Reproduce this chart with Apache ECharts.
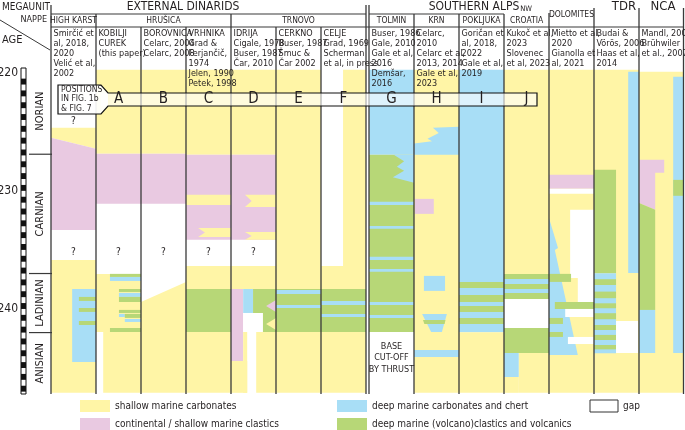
<!DOCTYPE html>
<html><head><meta charset="utf-8">
<script src="https://cdn.jsdelivr.net/npm/echarts@6/dist/echarts.min.js"></script>
<style>html,body{margin:0;padding:0;background:#fff}#c{width:685px;height:430px}</style>
</head><body><div id="c"></div>
<script>
// ---------------- DATA ----------------
const columns = ['High Karst','Kobilji Curek','Borovnica','Vrhnika','Idrija','Cerkno','Celje','Tolmin','Krn','Pokljuka','NW Croatia','Dolomites','TDR','NCA'];
// rect: [type, f0, f1, ageTop, ageBottom] ; polygon: [type, [[f, age], ...]]  (f = fraction of column width)
const highKarst = [
 ['Y',[[0,224.66],[1,224.66],[1,226.44],[0,225.51]]],
 ['P',[[0,225.51],[1,226.44],[1,233.31],[0,233.31]]],
 ['Y',0,1,235.85,247.1],
 ['B',0.47,1,238.31,244.49],
 ['G',0.62,1,238.98,239.32],
 ['G',0.62,1,239.92,240.25],
 ['G',0.62,1,241.02,241.36]
];
const kobilji = [
 ['Y',0,1,219.75,226.86],
 ['P',0,1,226.86,231.1],
 ['Y',0,1,237.03,241.95],
 ['Y',0.16,1,241.95,247.1],
 ['G',0.31,1,237.03,237.29],
 ['B',0.31,1,237.29,237.63],
 ['G',0.51,1,238.31,238.56],
 ['B',0.51,1,238.64,238.98],
 ['G',0.51,1,238.98,239.41],
 ['G',0.51,1,240.08,240.34],
 ['B',0.51,0.64,240.42,240.68],
 ['G',0.64,1,240.42,240.76],
 ['B',0.64,1,240.85,241.1],
 ['G',0.31,1,241.61,241.95]
];
const borovnica = [
 ['Y',0,1,219.75,226.86],
 ['P',0,1,226.86,231.1],
 ['Y',[[0,239.41],[1,237.71],[1,247.1],[0,247.1]]]
];
const vrhnika = [
 ['Y',0,1,219.75,226.95],
 ['P',0,1,226.95,234.15],
 ['Y',0,1,230.34,231.19],
 ['Y',[[0.27,233.14],[1,233.14],[1,233.9],[0.27,233.9],[0.42,233.52]]],
 ['Y',0,1,236.36,238.31],
 ['G',0,1,238.31,241.95],
 ['Y',0,1,241.95,247.1]
];
const idrija = [
 ['Y',0,1,219.75,226.95],
 ['P',0,1,226.95,234.15],
 ['Y',[[0.31,230.34],[1,230.34],[1,231.36],[0.31,231.36],[0.46,230.85]]],
 ['Y',[[0.31,233.48],[1,233.48],[1,234.15],[0.31,234.15],[0.46,233.82]]],
 ['Y',0,1,236.36,238.31],
 ['P',0,0.27,238.31,244.41],
 ['B',0.27,0.49,238.31,240.34],
 ['G',0.49,1,238.31,241.95],
 ['W',0.27,0.71,240.34,241.95],
 ['P',[[1,239.24],[0.78,239.75],[1,240.25]]],
 ['Y',[[1,240.76],[0.78,241.27],[1,241.78]]],
 ['Y',0.56,1,241.95,247.1],
 ['Y',0.27,0.36,241.95,247.1],
 ['Y',0,0.36,244.41,247.1]
];
const cerkno = [
 ['Y',0,1,219.75,238.31],
 ['G',0,1,238.31,241.95],
 ['B',0,1,238.39,238.73],
 ['B',0,1,239.66,239.92],
 ['Y',0,1,241.95,247.1]
];
const celje = [
 ['Y',0.49,1,219.75,236.36],
 ['Y',0,1,236.36,238.31],
 ['G',0,1,238.31,241.95],
 ['B',0,1,239.32,239.66],
 ['B',0,1,240.42,240.68],
 ['Y',0,1,241.95,247.1]
];
const tolmin = [
 ['B',0,1,219.75,226.95],
 ['G',0,1,226.95,241.95],
 ['B',[[1,226.95],[0.55,226.95],[0.78,227.5],[0.62,227.95],[0.78,228.3],[0.53,228.85],[1,229.32]]],
 ['B',0,1,230.93,231.19],
 ['B',0,1,232.97,233.22],
 ['B',0,1,235.59,235.85],
 ['B',0,1,236.61,236.86],
 ['B',0,1,239.41,239.66],
 ['B',0,1,240.51,240.76]
];
const krn = [
 ['Y',0,1,219.75,247.1],
 ['B',[[1,224.58],[0.42,224.66],[0.55,225.1],[0.3,225.6],[0.4,225.8],[0,226.0],[0,226.95],[1,226.95]]],
 ['P',0.02,0.44,230.68,231.95],
 ['B',0.22,0.69,237.2,238.47],
 ['B',[[0.18,240.42],[0.73,240.42],[0.62,241.95],[0.38,241.95]]],
 ['G',[[0.2,240.93],[0.7,240.93],[0.68,241.27],[0.23,241.27]]],
 ['B',0,1,243.47,244.07]
];
const pokljuka = [
 ['B',0,1,219.75,237.71],
 ['G',0,1,237.71,238.22],
 ['B',0,1,238.22,238.81],
 ['G',0,1,238.81,239.41],
 ['B',0,1,239.41,239.75],
 ['G',0,1,239.75,240.25],
 ['B',0,1,240.25,240.76],
 ['G',0,1,240.76,241.27],
 ['B',0,1,241.27,241.98],
 ['Y',0,1,241.98,247.1]
];
const nwCroatia = [
 ['Y',0,1,219.75,237.03],
 ['G',0,1,237.03,237.46],
 ['B',0,1,237.46,237.88],
 ['G',0,1,237.88,238.31],
 ['B',0,1,238.31,238.64],
 ['G',0,1,238.64,239.15],
 ['G',0,1,241.61,243.73],
 ['B',0,0.33,243.73,245.76],
 ['Y',0.33,1,243.73,247.1],
 ['Y',0,0.33,245.76,247.1]
];
const dolomites = [
 ['Y',0,1,219.75,247.1],
 ['P',0,1,228.64,229.83],
 ['W',0,1,229.83,230.25],
 ['W',0.47,1,231.61,237.37],
 ['W',0.64,1,237.37,239.41],
 ['B',[[0,232.29],[0.2,234.83],[0.13,235.0],[0.64,243.9],[0,243.9]]],
 ['G',0,0.49,237.03,237.71],
 ['G',0.13,1,239.41,240.0],
 ['W',0.36,1,240.0,240.68],
 ['G',0,0.31,240.76,241.27],
 ['G',0,0.31,241.95,242.37],
 ['W',0.42,1,242.37,242.97]
];
const tdr = [
 ['Y',0,1,219.75,247.1],
 ['B',0.76,1,219.92,236.95],
 ['G',0,0.49,228.22,236.97],
 ['B',0,0.49,236.97,243.75],
 ['G',0,0.49,237.48,237.97],
 ['G',0,0.49,238.53,239.09],
 ['G',0,0.49,239.52,239.94],
 ['G',0,0.49,240.36,240.87],
 ['G',0,0.49,241.36,241.78],
 ['G',0,0.49,242.2,242.63],
 ['G',0,0.49,243.05,243.42],
 ['W',0.49,0.98,241.02,243.73]
];
const nca = [
 ['Y',0,1,219.92,247.1],
 ['B',0.76,1,220.34,243.73],
 ['G',0.76,1,229.07,230.42],
 ['P',[[0,227.37],[0.56,227.37],[0.56,228.47],[0.36,228.47],[0.36,231.61],[0,231.02]]],
 ['G',[[0,231.02],[0.36,231.61],[0.36,240.08],[0,240.08]]],
 ['B',0,0.36,240.08,243.73]
];
const columnData = [highKarst,kobilji,borovnica,vrhnika,idrija,cerkno,celje,tolmin,krn,pokljuka,nwCroatia,dolomites,tdr,nca];

// question marks / notes: [column, age, text]
const notes = [[0,224.15,'?'],[0,235.2,'?'],[1,235.2,'?'],[2,235.2,'?'],[3,235.25,'?'],[4,235.25,'?'],
  [7,243.2,'BASE'],[7,244.15,'CUT-OFF'],[7,245.1,'BY THRUST']];
const stages = [['NORIAN',219.6,226.9],['CARNIAN',226.9,237.0],['LADINIAN',237.0,242.0],['ANISIAN',242.0,247.2]];
const ageTicks = [220,230,240];
const megaunits = ['EXTERNAL DINARIDS','SOUTHERN ALPS','TDR','NCA'];
const nappes = [['HIGH KARST',0,1],['HRUŠICA',1,4],['TRNOVO',4,7],['TOLMIN',7,8],['KRN',8,9],['POKLJUKA',9,10],['CROATIA',10,11],['DOLOMITES',11,12]];
const refs = [
 ['Smirčić et','al, 2018,','2020','Velić et al,','2002'],
 ['KOBILJI','CUREK','(this paper)'],
 ['BOROVNICA','Celarc, 2004','Celarc, 2008'],
 ['VRHNIKA','Grad &','Ferjančič,','1974','Jelen, 1990','Petek, 1998'],
 ['IDRIJA','Cigale, 1978','Buser, 1987','Čar, 2010'],
 ['CERKNO','Buser, 1987','Šmuc &','Čar 2002'],
 ['CELJE','Grad, 1969','Scherman','et al, in press'],
 ['Buser, 1986','Gale, 2010','Gale et al,','2016','Demšar,','2016'],
 ['Celarc,','2010','Celarc et al,','2013, 2014','Gale et al,','2023'],
 ['Goričan et','al, 2018,','2022','Gale et al,','2019'],
 ['Kukoč et al,','2023','Slovenec','et al, 2023'],
 ['Mietto et al,','2020','Gianolla et','al, 2021'],
 ['Budai &','Vörös, 2006','Haas et al,','2014'],
 ['Mandl, 2000','Brühwiler','et al., 2007']
];
const positions = ['','A','B','C','D','E','F','G','H','I','J','','',''];
const legendItems = [['Y','shallow marine carbonates'],['P','continental / shallow marine clastics'],['B','deep marine carbonates and chert'],['G','deep marine (volcano)clastics and volcanics'],['W','gap']];

// ---------------- STYLE / LAYOUT ----------------
const COLORS = {Y:'#fff5a6', P:'#e9c9e1', B:'#a8def6', G:'#b7d777', W:'#ffffff'};
const FONT = "'Liberation Sans Narrow','DejaVu Sans Condensed',Roboto,sans-serif";
const INK = '#231f20', LINE = '#3a3a3a';
const GL = 51, GT = 68, GH = 326, CW = 45, GAP = 3;
const Y_MIN = 219.6, Y_MAX = 247.2;
function colX(c){ return c + (c >= 7 ? GAP/CW : 0); }
function colPx(c){ return GL + CW*colX(c); }
const XMAX = 14 + GAP/CW;
const lineTops = [5,14,27,27,14,27,27,5,14,14,14,13,8,8,8];

const blocks = [];
columnData.forEach((arr,c)=>arr.forEach(s=>blocks.push({c, s})));

const chart = echarts.init(document.getElementById('c'), null, {renderer:'canvas'});

function renderBlock(params, api){
  const b = blocks[params.dataIndex], s = b.s, x0 = colX(b.c);
  const style = {fill: COLORS[s[0]]};
  if (s.length === 5){
    const p0 = api.coord([x0+s[1], s[3]]), p1 = api.coord([x0+s[2], s[4]]);
    return {type:'rect', shape:{x:p0[0], y:p0[1], width:p1[0]-p0[0], height:p1[1]-p0[1]}, style};
  }
  return {type:'polygon', shape:{points:s[1].map(p=>api.coord([x0+p[0], p[1]]))}, style};
}
function renderNote(params, api){
  const n = notes[params.dataIndex];
  const p = api.coord([colX(n[0])+0.5, n[1]]);
  return {type:'text', x:p[0], y:p[1], style:{text:n[2], font:(n[2]==='?'?'10px ':'9px ')+FONT, fill:INK, textAlign:'center', textVerticalAlign:'middle'}};
}
function renderLine(params, api){
  const i = params.dataIndex;
  const xs = i===7 ? [7, 7+GAP/CW] : [i===14 ? XMAX : colX(i)];
  const bottom = api.coord([0, Y_MAX])[1];
  return {type:'group', children: xs.map(x=>{
    const px = Math.round(api.coord([x, Y_MIN])[0]) + (i===14?-0.5:0);
    return {type:'line', shape:{x1:px, y1:lineTops[i], x2:px, y2:bottom}, style:{stroke:LINE, lineWidth:1.3}};
  })};
}
function renderScale(params, api){
  const ch = [];
  const top = api.coord([0, Y_MIN]), bot = api.coord([1, Y_MAX]);
  ch.push({type:'rect', shape:{x:top[0], y:top[1], width:bot[0]-top[0], height:bot[1]-top[1]}, style:{fill:'#fff', stroke:'#111', lineWidth:1}});
  for (let a = 220.5; a < Y_MAX; a += 1){
    const p0 = api.coord([0, a]), p1 = api.coord([1, Math.min(a+0.5, Y_MAX)]);
    ch.push({type:'rect', shape:{x:p0[0], y:p0[1], width:p1[0]-p0[0], height:p1[1]-p0[1]}, style:{fill:'#111'}});
  }
  ageTicks.forEach(t=>{
    const p = api.coord([0, t]);
    ch.push({type:'text', x:p[0]-3, y:p[1], style:{text:String(t), font:'12px '+FONT, fill:INK, textAlign:'right', textVerticalAlign:'middle'}});
  });
  return {type:'group', children:ch};
}
function renderStage(params, api){
  const st = stages[params.dataIndex];
  const ch = [];
  const pTop = api.coord([0, st[1]]), pR = api.coord([1, st[1]]);
  if (params.dataIndex > 0) ch.push({type:'line', shape:{x1:pTop[0], y1:pTop[1], x2:pR[0]+1, y2:pTop[1]}, style:{stroke:LINE, lineWidth:1.2}});
  const c = api.coord([0.5, (st[1]+st[2])/2]);
  ch.push({type:'text', x:c[0], y:c[1], rotation:Math.PI/2, style:{text:st[0], font:'11px '+FONT, fill:INK, textAlign:'center', textVerticalAlign:'middle'}});
  return {type:'group', children:ch};
}

// ---------------- GRAPHIC (header, positions band, legend) ----------------
const g = [];
function txt(x,y,text,size,opt){ g.push(Object.assign({type:'text', x, y, z:20, style:Object.assign({text, font:size+'px '+FONT, fill:INK, textVerticalAlign:'middle'}, opt||{})})); }
function ln(x1,y1,x2,y2,w){ g.push({type:'line', z:20, shape:{x1,y1,x2,y2}, style:{stroke:LINE, lineWidth:w||1.2}}); }
// corner
txt(2,7,'MEGAUNIT',10);
txt(47,20,'NAPPE',9,{textAlign:'right'});
txt(2,40,'AGE',11);
ln(0,20,50,50,1);
// megaunits
const megaX = [183, 474, 624, 663];
megaunits.forEach((m,i)=>txt(megaX[i], 7, m, i<2?12:13, {textAlign:'center'}));
// header lines
ln(GL,14,colPx(7)-GAP,14); ln(colPx(7),14,colPx(10),14);
ln(GL,27,684,27);
// nappes
nappes.forEach(n=>{
  const cx = (colPx(n[1]) + colPx(n[2]) - (n[2]===7?GAP:0))/2;
  if (n[0]==='DOLOMITES') txt(cx, 15, n[0], 8.5, {textAlign:'center'});
  else txt(cx, 21, n[0], 8.5, {textAlign:'center'});
});
txt(colPx(10)+22, 9, 'NW', 7.5, {textAlign:'center'});
// references
refs.forEach((lines,c)=>lines.forEach((t,k)=>txt(colPx(c)+2.5, 34+k*10, t, 9)));
// positions band
const bandR = colPx(10)+33;
g.push({type:'polygon', z:30, shape:{points:[[101,93],[bandR,93],[bandR,106],[101,106]]}, style:{fill:'rgba(255,255,255,0.62)'}});
g.push({type:'polygon', z:30, shape:{points:[[58,85],[101,85],[108,93],[108,106],[101,114],[58,114]]}, style:{fill:'rgba(255,255,255,0.92)'}});
g.push({type:'polygon', z:31, shape:{points:[[58,85],[101,85],[108,93],[bandR,93],[bandR,106],[108,106],[101,114],[58,114]]}, style:{fill:'none', stroke:'#111', lineWidth:1.2}});
['POSITIONS','IN FIG. 1b','& FIG. 7'].forEach((t,k)=>g.push({type:'text', z:32, x:61, y:89.5+k*9.5, style:{text:t, font:'8.5px '+FONT, fill:INK, textVerticalAlign:'middle'}}));
positions.forEach((p,c)=>{ if(p) g.push({type:'text', z:32, x:colPx(c)+CW/2, y:99.5, style:{text:p, font:'15px '+FONT, fill:INK, textAlign:'center', textVerticalAlign:'middle'}}); });
// legend
const legPos = [[80,406],[80,424],[337,406],[337,424],[590,406]];
legendItems.forEach((li,i)=>{
  const [x,y] = legPos[i];
  const w = li[0]==='W' ? 28 : 30;
  g.push({type:'rect', z:20, shape:{x, y:y-6, width:w, height:12}, style:{fill:COLORS[li[0]], stroke: li[0]==='W' ? '#333' : null, lineWidth:1}});
  txt(x+w+5, y, li[1], 10);
});

chart.setOption({
  animation:false,
  grid:[
    {left:GL, top:GT, width:CW*XMAX, height:GH},
    {left:21, top:GT, width:5, height:GH},
    {left:29, top:GT, width:22, height:GH}
  ],
  xAxis:[0,1,2].map(i=>({type:'value', gridIndex:i, min:0, max:i===0?XMAX:1, show:false})),
  yAxis:[0,1,2].map(i=>({type:'value', gridIndex:i, min:Y_MIN, max:Y_MAX, inverse:true, show:false})),
  series:[
    {type:'custom', xAxisIndex:0, yAxisIndex:0, z:2, renderItem:renderBlock, data:blocks.map((b,i)=>i), silent:true},
    {type:'custom', xAxisIndex:0, yAxisIndex:0, z:3, clip:false, renderItem:renderLine, data:lineTops.map((t,i)=>i), silent:true},
    {type:'custom', xAxisIndex:0, yAxisIndex:0, z:4, renderItem:renderNote, data:notes.map((n,i)=>i), silent:true},
    {type:'custom', xAxisIndex:1, yAxisIndex:1, z:4, clip:false, renderItem:renderScale, data:[0], silent:true},
    {type:'custom', xAxisIndex:2, yAxisIndex:2, z:4, clip:false, renderItem:renderStage, data:stages.map((s,i)=>i), silent:true}
  ],
  graphic:{elements:g}
});
</script></body></html>
